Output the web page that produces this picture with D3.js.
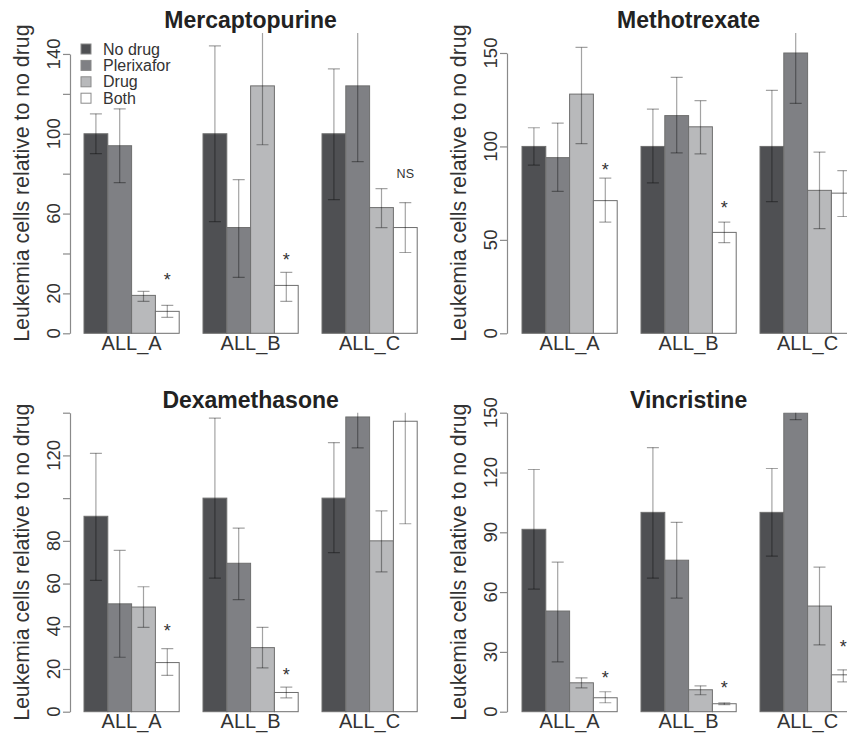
<!DOCTYPE html>
<html>
<head>
<meta charset="utf-8">
<script src="https://cdn.jsdelivr.net/npm/d3@7"></script>
<style>
  body { margin: 0; background: #fff; }
  svg { display: block; font-family: "Liberation Sans", Arial, sans-serif; }
</style>
</head>
<body>
<script>
// shared categories
var cellLines = ["ALL_A", "ALL_B", "ALL_C"];
var treatments = ["No drug", "Plerixafor", "Drug", "Both"];

// Mercaptopurine: mean, upper and lower error per cell line
var mercaptoMean = [[100, 94, 19, 11], [100, 53, 124, 24], [100, 124, 63, 53]];
var mercaptoHi   = [[110, 112.5, 21, 14], [144, 77, 155, 30.5], [132.5, 155, 72.5, 65.5]];
var mercaptoLo   = [[90, 75.5, 16, 8], [56, 28, 94.5, 16], [67, 86, 53, 40.5]];
var mercaptoSig  = ["*", "*", "NS"];
var mercaptoSigY = [29, 39, 80];
var mercaptoTicks = [0, 20, 40, 60, 80, 100, 120, 140];
var mercaptoTickLabels = ["0", "20", "", "60", "", "100", "", "140"];

// Methotrexate
var methoMean = [[100, 94, 128, 71], [100, 116.5, 110.5, 54], [100, 150, 76.5, 75]];
var methoHi   = [[110, 112.5, 153, 83], [120, 137, 124.5, 59.5], [130, 165, 97, 87]];
var methoLo   = [[90, 76, 101.5, 59.5], [80.5, 96.5, 96, 48.5], [70.5, 123, 56, 62.5]];
var methoSig  = ["*", "*", ""];
var methoSigY = [90, 69.5, 0];
var methoTicks = [0, 50, 100, 150];
var methoTickLabels = ["0", "50", "100", "150"];

// Dexamethasone
var dexaMean = [[91.5, 50.5, 49, 23], [100, 69.5, 30, 9], [100, 138, 80, 136]];
var dexaHi   = [[121, 75.5, 58.5, 29.5], [137.5, 86, 39.5, 11.5], [126, 145, 94, 145]];
var dexaLo   = [[61.5, 25.5, 39.5, 17], [62.5, 52.5, 20.5, 6.5], [74.5, 123.5, 65.5, 88]];
var dexaSig  = ["*", "*", ""];
var dexaSigY = [40, 19.5, 0];
var dexaTicks = [0, 20, 40, 60, 80, 100, 120, 140];
var dexaTickLabels = ["0", "20", "40", "60", "80", "", "120", ""];

// Vincristine
var vincMean = [[91.5, 50.5, 14.5, 7], [100, 76, 11, 4], [100, 150, 53, 18.5]];
var vincHi   = [[121.5, 75, 17, 10], [132.5, 95, 13, 4.5], [122, 155, 72.5, 21]];
var vincLo   = [[61.5, 25, 12, 4.5], [67, 57, 8.5, 3.5], [78, 146.5, 33.5, 15]];
var vincSig  = ["*", "*", "*"];
var vincSigY = [19, 14, 34.5];
var vincTicks = [0, 30, 60, 90, 120, 150];
var vincTickLabels = ["0", "30", "60", "90", "120", "150"];

var fills = ["#4f5053", "#7f8084", "#b8b9bb", "#ffffff"];
var yTitle = "Leukemia cells relative to no drug";

var W = 847, H = 733;
var barW = 23.8;

var svg = d3.select("body").append("svg")
  .attr("width", W)
  .attr("height", H);

svg.append("rect").attr("width", W).attr("height", H).attr("fill", "#fff");

var panels = [
  {id: 1, title: "Mercaptopurine", mean: mercaptoMean, hi: mercaptoHi, lo: mercaptoLo,
   sig: mercaptoSig, sigY: mercaptoSigY, ticks: mercaptoTicks, tickLabels: mercaptoTickLabels,
   axisX: 70, barLeft: 84, y0: 333.3, yTop: 33, yMax: 150.5, legend: true},
  {id: 2, title: "Methotrexate", mean: methoMean, hi: methoHi, lo: methoLo,
   sig: methoSig, sigY: methoSigY, ticks: methoTicks, tickLabels: methoTickLabels,
   axisX: 507, barLeft: 522, y0: 333.3, yTop: 33, yMax: 160.7},
  {id: 3, title: "Dexamethasone", mean: dexaMean, hi: dexaHi, lo: dexaLo,
   sig: dexaSig, sigY: dexaSigY, ticks: dexaTicks, tickLabels: dexaTickLabels,
   axisX: 70, barLeft: 84, y0: 711.7, yTop: 412.7, yMax: 140},
  {id: 4, title: "Vincristine", mean: vincMean, hi: vincHi, lo: vincLo,
   sig: vincSig, sigY: vincSigY, ticks: vincTicks, tickLabels: vincTickLabels,
   axisX: 507, barLeft: 522, y0: 711.7, yTop: 412.7, yMax: 150}
];

panels.forEach(drawPanel);

function drawPanel(p) {
  var y = d3.scaleLinear().domain([0, p.yMax]).range([p.y0, p.yTop]);
  var x = d3.scaleBand().domain(cellLines)
    .range([p.barLeft, p.barLeft + 3 * 5 * barW - barW])
    .paddingInner(0.2).paddingOuter(0);
  var xi = d3.scaleBand().domain(treatments).range([0, x.bandwidth()]);

  // clip to the plotting region
  svg.append("clipPath").attr("id", "clip" + p.id)
    .append("rect")
    .attr("x", p.axisX).attr("y", p.yTop)
    .attr("width", W - p.axisX).attr("height", p.y0 - p.yTop + 2);

  var g = svg.append("g").attr("clip-path", "url(#clip" + p.id + ")");

  var rows = [];
  cellLines.forEach(function(c, i) {
    treatments.forEach(function(t, j) {
      rows.push({cell: c, trt: t, j: j, mean: p.mean[i][j], hi: p.hi[i][j], lo: p.lo[i][j]});
    });
  });

  g.selectAll("rect.bar").data(rows).enter().append("rect")
    .attr("class", "bar")
    .attr("x", function(d) { return x(d.cell) + xi(d.trt); })
    .attr("y", function(d) { return y(d.mean); })
    .attr("width", xi.bandwidth())
    .attr("height", function(d) { return y(0) - y(d.mean); })
    .attr("fill", function(d) { return fills[d.j]; })
    .attr("stroke", "#6e6e6e")
    .attr("stroke-width", 1);

  // error bars, semi transparent so they show darker over the bars
  var eb = g.selectAll("g.err").data(rows).enter().append("g")
    .attr("class", "err")
    .attr("stroke", "#000")
    .attr("stroke-opacity", 0.36)
    .attr("stroke-width", 1.2);
  var cx = function(d) { return x(d.cell) + xi(d.trt) + xi.bandwidth() / 2; };
  eb.append("line")
    .attr("x1", cx).attr("x2", cx)
    .attr("y1", function(d) { return y(d.lo); })
    .attr("y2", function(d) { return y(d.hi); });
  ["hi", "lo"].forEach(function(k) {
    eb.append("line")
      .attr("x1", function(d) { return cx(d) - 6; })
      .attr("x2", function(d) { return cx(d) + 6; })
      .attr("y1", function(d) { return y(d[k]); })
      .attr("y2", function(d) { return y(d[k]); });
  });

  // significance marks over the "Both" bars
  cellLines.forEach(function(c, i) {
    var s = p.sig[i];
    if (!s) return;
    svg.append("text")
      .attr("x", x(c) + xi("Both") + xi.bandwidth() / 2)
      .attr("y", y(p.sigY[i]) + (s === "*" ? 10.5 : 4.5))
      .attr("text-anchor", "middle")
      .attr("font-size", s === "*" ? 18 : 12.5)
      .attr("fill", "#333")
      .text(s);
  });

  // y axis only runs to the last tick
  var last = p.ticks[p.ticks.length - 1];
  var ya = y.copy().domain([0, last]).range([y(0), y(last)]);
  var ax = svg.append("g")
    .attr("transform", "translate(" + p.axisX + ",0)")
    .call(d3.axisLeft(ya).tickValues(p.ticks).tickSize(7).tickSizeOuter(0)
      .tickFormat(function() { return ""; }));
  ax.select(".domain").attr("stroke", "#8a8a8a").attr("stroke-width", 1.2);
  ax.selectAll(".tick line").attr("stroke", "#8a8a8a").attr("stroke-width", 1.2);

  // rotated tick labels, parallel to the axis
  svg.append("g").selectAll("text").data(p.ticks).enter().append("text")
    .attr("transform", function(d) {
      return "translate(" + (p.axisX - 16.5) + "," + ya(d) + ") rotate(-90)";
    })
    .attr("dy", "0.36em")
    .attr("text-anchor", "middle")
    .attr("font-size", 18.5)
    .attr("fill", "#333")
    .text(function(d, i) { return p.tickLabels[i]; });

  // y title
  svg.append("text")
    .attr("transform", "translate(" + (p.axisX - 41) + "," + ((p.y0 + p.yTop) / 2) + ") rotate(-90)")
    .attr("text-anchor", "middle")
    .attr("font-size", 21.3)
    .attr("fill", "#333")
    .text(yTitle);

  // x labels under each group
  svg.append("g").selectAll("text").data(cellLines).enter().append("text")
    .attr("x", function(d) { return x(d) + x.bandwidth() / 2; })
    .attr("y", p.y0 + 16.5)
    .attr("text-anchor", "middle")
    .attr("font-size", 20)
    .attr("fill", "#333")
    .text(function(d) { return d; });

  // title over the middle group
  svg.append("text")
    .attr("x", x("ALL_B") + x.bandwidth() / 2)
    .attr("y", p.yTop - 4.6)
    .attr("text-anchor", "middle")
    .attr("font-size", 23)
    .attr("font-weight", "bold")
    .attr("fill", "#222")
    .text(p.title);

  if (p.legend) {
    var lg = svg.append("g").attr("transform", "translate(81,49)");
    var item = lg.selectAll("g").data(treatments).enter().append("g")
      .attr("transform", function(d, i) { return "translate(0," + (i * 16.4) + ")"; });
    item.append("rect")
      .attr("x", 0).attr("y", -5).attr("width", 10).attr("height", 10)
      .attr("fill", function(d, i) { return fills[i]; })
      .attr("stroke", "#8a8a8a");
    item.append("text")
      .attr("x", 22).attr("y", 5.6)
      .attr("font-size", 16)
      .attr("fill", "#333")
      .text(function(d) { return d; });
  }
}
</script>
</body>
</html>
